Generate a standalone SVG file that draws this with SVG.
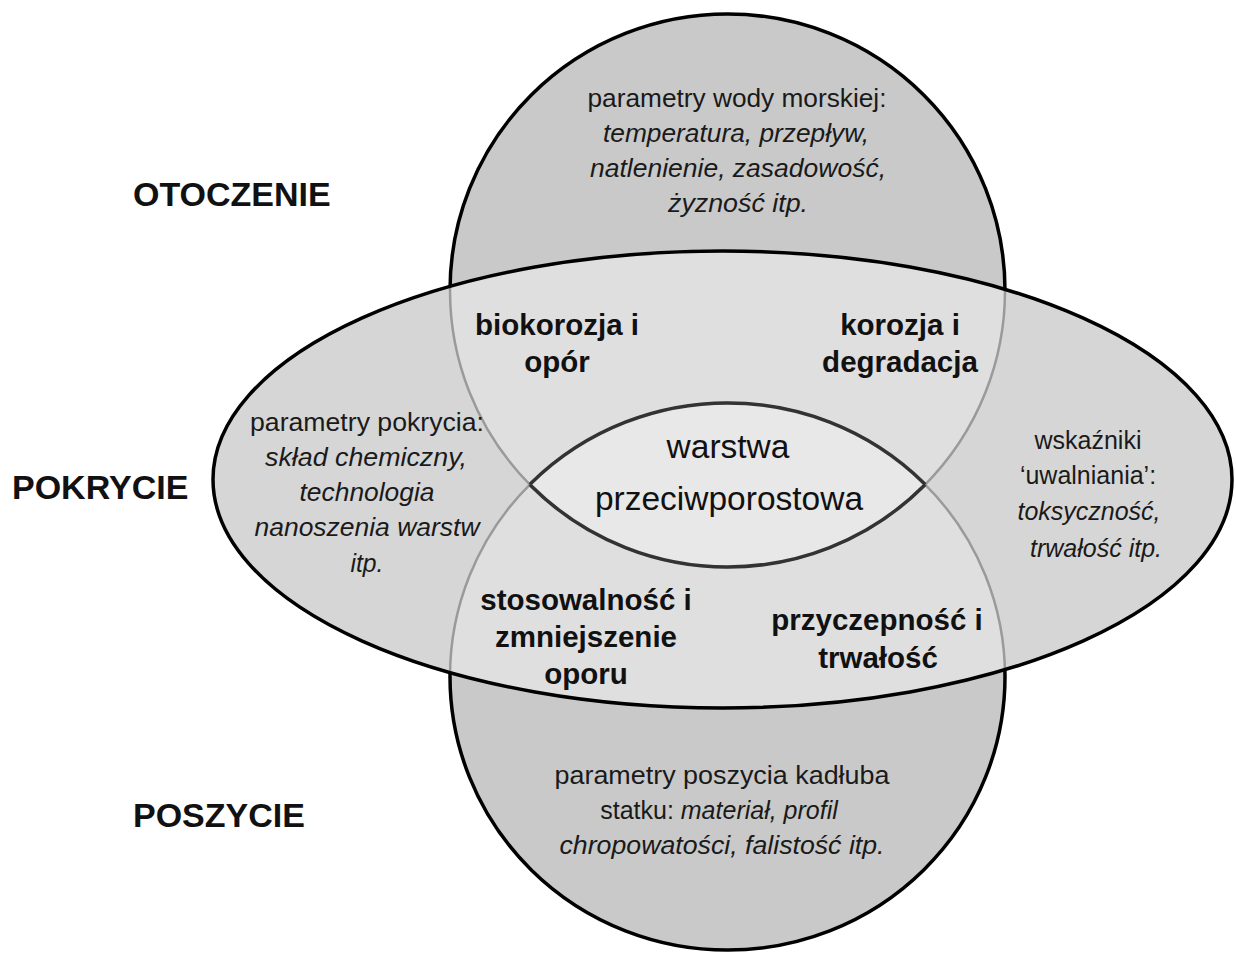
<svg xmlns="http://www.w3.org/2000/svg" width="1236" height="953" viewBox="0 0 1236 953">
  <style>
    .lbl { font-family: "Liberation Sans", Arial, sans-serif; font-weight: bold; font-size: 34px; fill: #111; }
    .bold { font-family: "Liberation Sans", Arial, sans-serif; font-weight: bold; font-size: 29.5px; fill: #111; text-anchor: middle; }
    .reg { font-family: "Liberation Sans", Arial, sans-serif; font-size: 25px; fill: #1a1a1a; text-anchor: middle; }
    .it { font-style: italic; }
    .center { font-family: "Liberation Sans", Arial, sans-serif; font-size: 33.5px; fill: #111; text-anchor: middle; }
    .outer { stroke: #000; stroke-width: 3.5; }
    .inner { fill: none; stroke: #9a9a9a; stroke-width: 2.5; }
    .lensline { fill: none; stroke: #333; stroke-width: 3.5; }
  </style>
  <defs>
    <ellipse id="eTop" cx="727.5" cy="290.5" rx="277.5" ry="276.5"/>
    <ellipse id="eBot" cx="727.5" cy="676.5" rx="277.5" ry="273.5"/>
    <ellipse id="eMid" cx="722.5" cy="479.5" rx="509.5" ry="228.5"/>
    <clipPath id="clipMid"><use href="#eMid"/></clipPath>
    <clipPath id="clipTop"><use href="#eTop"/></clipPath>
    <clipPath id="clipBot"><use href="#eBot"/></clipPath>
  </defs>
  <rect width="1236" height="953" fill="#fff"/>

  <g id="otoczenie">
    <use href="#eTop" fill="#c9c9c9" class="outer"/>
  </g>
  <g id="poszycie">
    <use href="#eBot" fill="#c9c9c9" class="outer"/>
  </g>
  <g id="pokrycie">
    <use href="#eMid" fill="#d6d6d6"/>
    <g clip-path="url(#clipMid)">
      <use href="#eTop" fill="#dfdfdf"/>
      <use href="#eBot" fill="#dfdfdf"/>
      <use href="#eTop" class="inner"/>
      <use href="#eBot" class="inner"/>
    </g>
  </g>
  <g id="warstwa">
    <use href="#eTop" fill="#e8e8e8" clip-path="url(#clipBot)"/>
    <use href="#eTop" class="lensline" clip-path="url(#clipBot)"/>
    <use href="#eBot" class="lensline" clip-path="url(#clipTop)"/>
    <text class="center" x="728" y="458">warstwa</text>
    <text class="center" x="729" y="510">przeciwporostowa</text>
  </g>
  <g id="pokrycie-outline">
    <use href="#eMid" fill="none" class="outer"/>
  </g>

  <g id="connectors"></g>

  <g id="label-otoczenie"><text class="lbl" x="133" y="206">OTOCZENIE</text></g>
  <g id="label-pokrycie"><text class="lbl" x="12" y="499">POKRYCIE</text></g>
  <g id="label-poszycie"><text class="lbl" x="133" y="827">POSZYCIE</text></g>

  <g id="text-otoczenie">
    <text class="reg" x="737" y="107" textLength="299" lengthAdjust="spacingAndGlyphs">parametry wody morskiej:</text>
    <text class="reg it" x="736" y="142" textLength="266" lengthAdjust="spacingAndGlyphs">temperatura, przepływ,</text>
    <text class="reg it" x="738" y="177" textLength="296" lengthAdjust="spacingAndGlyphs">natlenienie, zasadowość,</text>
    <text class="reg it" x="738" y="212" textLength="140" lengthAdjust="spacingAndGlyphs">żyzność itp.</text>
  </g>

  <g id="text-pokrycie">
    <text class="reg" x="367" y="431" textLength="234" lengthAdjust="spacingAndGlyphs">parametry pokrycia:</text>
    <text class="reg it" x="366" y="466" textLength="202" lengthAdjust="spacingAndGlyphs">skład chemiczny,</text>
    <text class="reg it" x="367" y="501" textLength="135" lengthAdjust="spacingAndGlyphs">technologia</text>
    <text class="reg it" x="367" y="536" textLength="225" lengthAdjust="spacingAndGlyphs">nanoszenia warstw</text>
    <text class="reg it" x="367" y="572" textLength="33" lengthAdjust="spacingAndGlyphs">itp.</text>
  </g>

  <g id="text-uwalnianie">
    <text class="reg" x="1088" y="449">wskaźniki</text>
    <text class="reg" x="1088" y="484">‘uwalniania’:</text>
    <text class="reg it" x="1089" y="520">toksyczność,</text>
    <text class="reg it" x="1096" y="557">trwałość itp.</text>
  </g>

  <g id="biokorozja">
    <text class="bold" x="557" y="335">biokorozja i</text>
    <text class="bold" x="557" y="372">opór</text>
  </g>
  <g id="korozja">
    <text class="bold" x="900" y="335">korozja i</text>
    <text class="bold" x="900" y="372">degradacja</text>
  </g>
  <g id="stosowalnosc">
    <text class="bold" x="586" y="610">stosowalność i</text>
    <text class="bold" x="586" y="647">zmniejszenie</text>
    <text class="bold" x="586" y="684">oporu</text>
  </g>
  <g id="przyczepnosc">
    <text class="bold" x="877" y="630">przyczepność i</text>
    <text class="bold" x="878" y="668">trwałość</text>
  </g>

  <g id="text-poszycie">
    <text class="reg" x="722" y="784" textLength="335" lengthAdjust="spacingAndGlyphs">parametry poszycia kadłuba</text>
    <text class="reg" x="719" y="819">statku: <tspan class="it">materiał, profil</tspan></text>
    <text class="reg it" x="722" y="854" textLength="325" lengthAdjust="spacingAndGlyphs">chropowatości, falistość itp.</text>
  </g>
</svg>
